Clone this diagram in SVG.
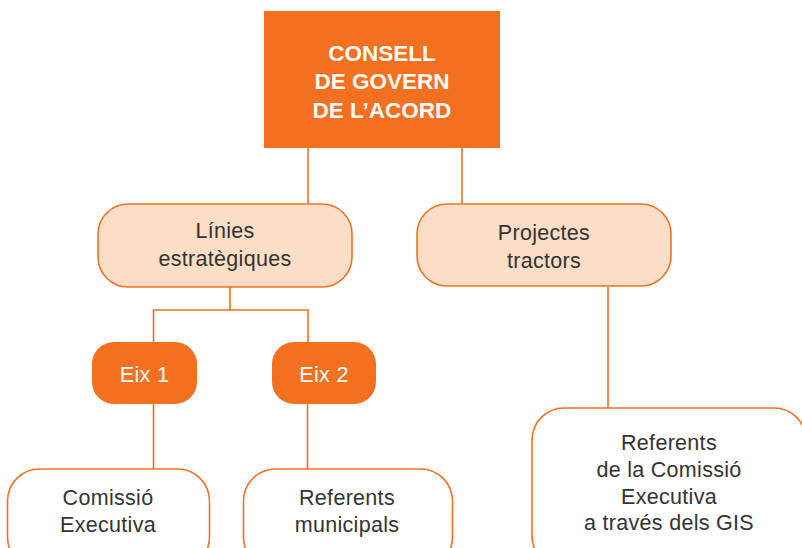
<svg xmlns="http://www.w3.org/2000/svg" width="802" height="548" viewBox="0 0 802 548">
<style>
.line{stroke:#F37021;stroke-width:1.6;fill:none}
.dark{fill:#F37021}
.light{fill:#FCDDC5;stroke:#F37021;stroke-width:1.6}
.white{fill:#FFFFFF;stroke:#F37021;stroke-width:1.6}
.t{font-family:"Liberation Sans",Arial,sans-serif;font-size:21.5px;fill:#333333;text-anchor:middle;letter-spacing:0.3px}
.tw{font-family:"Liberation Sans",Arial,sans-serif;font-size:21.5px;fill:#FFFFFF;text-anchor:middle;letter-spacing:0.3px}
.tb{font-family:"Liberation Sans",Arial,sans-serif;font-size:22.5px;font-weight:bold;fill:#FFFFFF;text-anchor:middle}
</style>
<rect width="802" height="548" fill="#FFFFFF"/>
<g id="connectors">
<line class="line" x1="308" y1="148" x2="308" y2="204"/>
<line class="line" x1="462" y1="148" x2="462" y2="204"/>
<polyline class="line" points="230,287 230,310"/>
<polyline class="line" points="153.5,342 153.5,310 308,310 308,342"/>
<line class="line" x1="153.5" y1="404" x2="153.5" y2="469"/>
<line class="line" x1="307.5" y1="404" x2="307.5" y2="469"/>
<line class="line" x1="608" y1="287" x2="608" y2="408"/>
</g>
<g id="consell">
<rect class="dark" x="264" y="11" width="236" height="137"/>
<text class="tb" x="382" y="61">CONSELL</text>
<text class="tb" x="382" y="89">DE GOVERN</text>
<text class="tb" x="382" y="118">DE L’ACORD</text>
</g>
<g id="linies">
<rect class="light" x="98" y="204" width="254" height="83" rx="30" ry="30"/>
<text class="t" x="225" y="238">Línies</text>
<text class="t" x="225" y="266">estratègiques</text>
</g>
<g id="projectes">
<rect class="light" x="417" y="204" width="254" height="82" rx="30" ry="30"/>
<text class="t" x="544" y="240">Projectes</text>
<text class="t" x="544" y="268">tractors</text>
</g>
<g id="eix1">
<rect class="dark" x="92" y="342" width="105" height="62" rx="22" ry="22"/>
<text class="tw" x="144.5" y="382">Eix 1</text>
</g>
<g id="eix2">
<rect class="dark" x="272" y="342" width="104" height="62" rx="22" ry="22"/>
<text class="tw" x="324" y="382">Eix 2</text>
</g>
<g id="comissio">
<rect class="white" x="7.5" y="469" width="202" height="100" rx="32" ry="32"/>
<text class="t" x="108" y="505">Comissió</text>
<text class="t" x="108" y="532">Executiva</text>
</g>
<g id="referents-municipals">
<rect class="white" x="243.5" y="469" width="209" height="100" rx="32" ry="32"/>
<text class="t" x="347" y="505">Referents</text>
<text class="t" x="347" y="532">municipals</text>
</g>
<g id="referents-comissio">
<rect class="white" x="532" y="408" width="274" height="160" rx="32" ry="32"/>
<text class="t" x="669" y="450">Referents</text>
<text class="t" x="669" y="477">de la Comissió</text>
<text class="t" x="669" y="504">Executiva</text>
<text class="t" x="669" y="530">a través dels GIS</text>
</g>
</svg>
